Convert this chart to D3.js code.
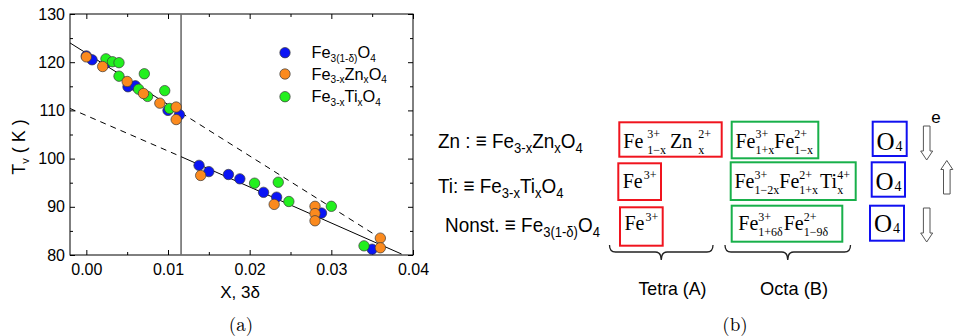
<!DOCTYPE html>
<html>
<head>
<meta charset="utf-8">
<script src="https://cdn.jsdelivr.net/npm/d3@7"></script>
<style>
  body { margin: 0; background: #fff; }
  svg { display: block; }
  .axis text { font-family: "Liberation Sans", Arial, sans-serif; font-size: 16px; fill: #000; }
  .axis line { stroke: #000; }
  .axis path { display: none; }
</style>
</head>
<body>
<div id="graphic"></div>
<script>
// panel (a) data
const nonstX = [0.0000, 0.0007, 0.0024, 0.0051, 0.0060, 0.0100, 0.0114, 0.0138, 0.0150, 0.0174, 0.0188, 0.0217, 0.0233, 0.0288, 0.0350];
const nonstT = [121.3, 120.5, 119.8, 114.9, 115.1, 110.0, 109.1, 98.6, 97.3, 96.7, 95.8, 93.0, 92.0, 88.7, 81.2];
const tiX = [0.0024, 0.0032, 0.0040, 0.0040, 0.0071, 0.0064, 0.0075, 0.0096, 0.0102, 0.0206, 0.0235, 0.0248, 0.0300, 0.0340];
const tiT = [120.7, 120.1, 119.9, 117.1, 117.6, 114.4, 112.9, 114.1, 110.4, 94.9, 95.1, 91.1, 90.1, 81.9];
const znX = [0.0000, 0.0020, 0.0050, 0.0070, 0.0090, 0.0110, 0.0110, 0.0140, 0.0230, 0.0280, 0.0280, 0.0280, 0.0360, 0.0360];
const znT = [121.1, 119.1, 116.0, 113.5, 111.5, 110.7, 108.1, 96.5, 90.5, 90.1, 88.6, 87.1, 83.5, 81.5];

// guide lines (x, T): first part / second part
const upperFit = [[-0.002, 124.0], [0.0116, 109.5], [0.0360, 83.5]];
const lowerFit = [[-0.002, 110.4], [0.0116, 100.4], [0.0386, 80.2]];
const boundaryX = 0.0116;

const xTicks = [0, 0.01, 0.02, 0.03, 0.04];
const xMinor = [0.005, 0.015, 0.025, 0.035];
const yTicks = [80, 90, 100, 110, 120, 130];
const yMinor = [85, 95, 105, 115, 125];

const seriesNames = [
  [{t: "Fe"}, {sub: "3(1-δ)"}, {t: "O"}, {sub: "4"}],
  [{t: "Fe"}, {sub: "3-x"}, {t: "Zn"}, {sub: "x"}, {t: "O"}, {sub: "4"}],
  [{t: "Fe"}, {sub: "3-x"}, {t: "Ti"}, {sub: "x"}, {t: "O"}, {sub: "4"}]
];
const seriesColors = ["#0a14f5", "#fb8a1e", "#22f01e"];

const W = 954, H = 336;
const svg = d3.select("#graphic").append("svg")
  .attr("width", W)
  .attr("height", H);

// lays out base text and stacked scripts left to right
function formula(g, parts, o) {
  let cx = 0;
  parts.forEach(p => {
    if (p.t !== undefined) {
      const t = g.append("text").attr("x", cx).attr("y", 0)
        .style("font-size", o.size + "px").text(p.t);
      cx += t.node().getComputedTextLength() + (p.gap || 0);
    } else {
      let w = 0;
      if (p.sup) {
        const s = g.append("text").attr("x", cx).attr("y", o.supDy)
          .style("font-size", o.ssize + "px").text(p.sup);
        w = Math.max(w, s.node().getComputedTextLength());
      }
      if (p.sub) {
        const s = g.append("text").attr("x", cx).attr("y", o.subDy)
          .style("font-size", o.ssize + "px").text(p.sub);
        w = Math.max(w, s.node().getComputedTextLength());
      }
      cx += w + (p.gap || 0);
    }
  });
  return cx;
}

/* ---------- panel (a) ---------- */
const x = d3.scaleLinear().domain([-0.002, 0.04]).range([70, 413]);
const y = d3.scaleLinear().domain([80, 130]).range([255, 14]);

const plot = svg.append("g");

// axes with inward ticks, mirrored on top/right
plot.append("g").attr("class", "axis").attr("transform", `translate(0,${y(80)})`)
  .call(d3.axisBottom(x).tickValues(xTicks).tickSize(-5).tickPadding(9).tickFormat(d3.format(".2f")));
plot.append("g").attr("class", "axis").attr("transform", `translate(0,${y(80)})`)
  .call(d3.axisBottom(x).tickValues(xMinor).tickSize(-3).tickFormat(""));
plot.append("g").attr("class", "axis").attr("transform", `translate(0,${y(130)})`)
  .call(d3.axisTop(x).tickValues(xTicks).tickSize(-5).tickFormat(""));
plot.append("g").attr("class", "axis").attr("transform", `translate(0,${y(130)})`)
  .call(d3.axisTop(x).tickValues(xMinor).tickSize(-3).tickFormat(""));
plot.append("g").attr("class", "axis").attr("transform", `translate(${x.range()[0]},0)`)
  .call(d3.axisLeft(y).tickValues(yTicks).tickSize(-5).tickPadding(5));
plot.append("g").attr("class", "axis").attr("transform", `translate(${x.range()[0]},0)`)
  .call(d3.axisLeft(y).tickValues(yMinor).tickSize(-3).tickFormat(""));
plot.append("g").attr("class", "axis").attr("transform", `translate(${x.range()[1]},0)`)
  .call(d3.axisRight(y).tickValues(yTicks).tickSize(-5).tickFormat(""));
plot.append("g").attr("class", "axis").attr("transform", `translate(${x.range()[1]},0)`)
  .call(d3.axisRight(y).tickValues(yMinor).tickSize(-3).tickFormat(""));

// frame
plot.append("rect")
  .attr("x", x.range()[0]).attr("y", y(130))
  .attr("width", x.range()[1] - x.range()[0]).attr("height", y(80) - y(130))
  .attr("fill", "none").attr("stroke", "#000").attr("stroke-width", 1);

// vertical boundary
plot.append("line")
  .attr("x1", x(boundaryX)).attr("x2", x(boundaryX))
  .attr("y1", y(130)).attr("y2", y(80))
  .attr("stroke", "#6e6e6e").attr("stroke-width", 1.6);

const seg = (a, b, dashed) => plot.append("line")
  .attr("x1", x(a[0])).attr("y1", y(a[1]))
  .attr("x2", x(b[0])).attr("y2", y(b[1]))
  .attr("stroke", "#000").attr("stroke-width", 1)
  .attr("stroke-dasharray", dashed ? "6,5" : null);
seg(upperFit[0], upperFit[1], false);
seg(upperFit[1], upperFit[2], true);
seg(lowerFit[0], lowerFit[1], true);
seg(lowerFit[1], lowerFit[2], false);

// points
const series = [
  {xs: nonstX, ts: nonstT, c: seriesColors[0]},
  {xs: tiX, ts: tiT, c: seriesColors[2]},
  {xs: znX, ts: znT, c: seriesColors[1]}
];
series.forEach(s => {
  plot.append("g").selectAll("circle")
    .data(s.xs.map((v, i) => [v, s.ts[i]]))
    .enter().append("circle")
    .attr("cx", d => x(d[0]))
    .attr("cy", d => y(d[1]))
    .attr("r", 5.2)
    .attr("fill", s.c)
    .attr("stroke", "#3a3a3a")
    .attr("stroke-width", 0.7);
});

// legend
const legY = [52.7, 74, 96.7];
seriesNames.forEach((parts, i) => {
  plot.append("circle").attr("cx", 285).attr("cy", legY[i]).attr("r", 5.2)
    .attr("fill", seriesColors[i]).attr("stroke", "#3a3a3a").attr("stroke-width", 0.7);
  const g = plot.append("g")
    .attr("transform", `translate(311.5,${legY[i] + 5.5}) scale(0.96,1)`)
    .style("font-family", "'Liberation Sans', Arial, sans-serif");
  formula(g, parts, {size: 17, ssize: 10.5, subDy: 3.5, supDy: -7});
});

// axis titles
plot.append("text")
  .attr("x", 240).attr("y", 298)
  .attr("text-anchor", "middle")
  .style("font-family", "'Liberation Sans', Arial, sans-serif")
  .style("font-size", "17px")
  .text("X, 3δ");

const yl = plot.append("text")
  .attr("transform", "translate(25,147) rotate(-90)")
  .attr("text-anchor", "middle")
  .style("font-family", "'Liberation Sans', Arial, sans-serif")
  .style("font-size", "18px");
yl.append("tspan").text("T");
yl.append("tspan").attr("dy", 4).style("font-size", "11px").text("v");
yl.append("tspan").attr("dy", -4).text(" ( K )");

svg.append("text")
  .attr("x", 241).attr("y", 331)
  .attr("text-anchor", "middle")
  .style("font-family", "'Latin Modern Roman', 'Liberation Serif', serif")
  .style("font-size", "19px")
  .text("(a)");

/* ---------- panel (b) ---------- */
const rowLabels = [
  [{t: "Zn :  ≡ Fe"}, {sub: "3-x"}, {t: "Zn"}, {sub: "x"}, {t: "O"}, {sub: "4"}],
  [{t: "Ti:  ≡  Fe"}, {sub: "3-x"}, {t: "Ti"}, {sub: "x"}, {t: "O"}, {sub: "4"}],
  [{t: "Nonst. ≡ Fe"}, {sub: "3(1-δ)"}, {t: " O"}, {sub: "4"}]
];
const rowLabelX = [438, 438, 445];
const rowBase = [148, 193, 232];

const tetra = [
  [{t: "Fe", gap: 4}, {sup: "3+", sub: "1−x", gap: 4}, {t: "Zn", gap: 6}, {sup: "2+", sub: "x"}],
  [{t: "Fe", gap: 1}, {sup: "3+"}],
  [{t: "Fe", gap: 1}, {sup: "3+"}]
];
const octa = [
  [{t: "Fe"}, {sup: "3+", sub: "1+x"}, {t: "Fe"}, {sup: "2+", sub: "1−x"}],
  [{t: "Fe"}, {sup: "3+", sub: "1−2x"}, {t: "Fe"}, {sup: "2+", sub: "1+x", gap: 2}, {t: "Ti"}, {sup: "4+", sub: "x"}],
  [{t: "Fe"}, {sup: "3+", sub: "1+6δ", gap: 1}, {t: "Fe"}, {sup: "2+", sub: "1−9δ"}]
];

const redBoxes = [[619.3, 122.3, 721.7, 156.7], [618.3, 163.3, 661, 200], [620, 207.3, 662.7, 245.7]];
const greenBoxes = [[731.7, 121.7, 818.3, 158.3], [730.7, 162.3, 855.7, 200], [731.7, 205.7, 842.3, 241.7]];
const blueBoxes = [[872.7, 121.7, 906.7, 156], [871.7, 162.3, 905, 196.7], [870, 205.7, 904, 240.7]];
const tetraX = [623.3, 622.7, 624.5];
const octaX = [735.5, 734.5, 738.3];
const oX = [876.5, 875.5, 874];
const boxBase = [147.5, 188, 230];
const oBase = [150, 190, 232];

const pb = svg.append("g");

rowLabels.forEach((parts, i) => {
  const g = pb.append("g")
    .attr("transform", `translate(${rowLabelX[i]},${rowBase[i]}) scale(0.9,1)`)
    .style("font-family", "'Liberation Sans', Arial, sans-serif");
  formula(g, parts, {size: 21, ssize: 14.5, subDy: 5, supDy: -8});
});

const box = (b, col) => pb.append("rect")
  .attr("x", b[0]).attr("y", b[1])
  .attr("width", b[2] - b[0]).attr("height", b[3] - b[1])
  .attr("fill", "none").attr("stroke", col).attr("stroke-width", 2);

redBoxes.forEach(b => box(b, "#f0141e"));
greenBoxes.forEach(b => box(b, "#18b04a"));
blueBoxes.forEach(b => box(b, "#1010f0"));

const serif = "'Liberation Serif', 'Times New Roman', serif";
tetra.forEach((parts, i) => {
  const g = pb.append("g").attr("transform", `translate(${tetraX[i]},${boxBase[i]})`).style("font-family", serif);
  formula(g, parts, {size: 20, ssize: 12, supDy: -9.5, subDy: 6});
});
octa.forEach((parts, i) => {
  const g = pb.append("g").attr("transform", `translate(${octaX[i]},${boxBase[i]})`).style("font-family", serif);
  formula(g, parts, {size: 20, ssize: 12, supDy: -9.5, subDy: 6});
});
oX.forEach((v, i) => {
  const g = pb.append("g").attr("transform", `translate(${v},${oBase[i]})`).style("font-family", serif);
  formula(g, [{t: "O", gap: 1}, {sub: "4"}], {size: 25, ssize: 14, supDy: -9, subDy: 1});
});

// hollow arrows
function arrow(cx, yTop, yBot, down) {
  const sw = 3.3, hw = 6, hl = 9;
  let p;
  if (down) {
    const yb = yBot - hl;
    p = `M${cx - sw},${yTop} L${cx + sw},${yTop} L${cx + sw},${yb} L${cx + hw},${yb} L${cx},${yBot} L${cx - hw},${yb} L${cx - sw},${yb} Z`;
  } else {
    const yb = yTop + hl;
    p = `M${cx - sw},${yBot} L${cx + sw},${yBot} L${cx + sw},${yb} L${cx + hw},${yb} L${cx},${yTop} L${cx - hw},${yb} L${cx - sw},${yb} Z`;
  }
  pb.append("path").attr("d", p).attr("fill", "#fff").attr("stroke", "#555").attr("stroke-width", 1);
}
arrow(926.7, 126, 160, true);
arrow(946.8, 160.5, 194, false);
arrow(926.7, 208, 242, true);

pb.append("text")
  .attr("x", 936).attr("y", 123)
  .attr("text-anchor", "middle")
  .style("font-family", "'Liberation Sans', Arial, sans-serif")
  .style("font-size", "17px")
  .text("e");

// braces under the site groups
function brace(x1, x2, y0) {
  const ym = y0 + 7, yt = y0 + 15, mid = (x1 + x2) / 2, r = 6;
  const d = `M${x1},${y0} Q${x1},${ym} ${x1 + r},${ym} L${mid - r},${ym} Q${mid},${ym} ${mid},${yt} ` +
            `Q${mid},${ym} ${mid + r},${ym} L${x2 - r},${ym} Q${x2},${ym} ${x2},${y0}`;
  pb.append("path").attr("d", d).attr("fill", "none").attr("stroke", "#222").attr("stroke-width", 1.3);
}
brace(609.5, 713, 245);
brace(725, 850.5, 245);

pb.append("text")
  .attr("x", 672.5).attr("y", 295)
  .attr("text-anchor", "middle")
  .attr("textLength", 68).attr("lengthAdjust", "spacingAndGlyphs")
  .style("font-family", "'Liberation Sans', Arial, sans-serif")
  .style("font-size", "19px")
  .text("Tetra (A)");
pb.append("text")
  .attr("x", 794).attr("y", 295)
  .attr("text-anchor", "middle")
  .attr("textLength", 68).attr("lengthAdjust", "spacingAndGlyphs")
  .style("font-family", "'Liberation Sans', Arial, sans-serif")
  .style("font-size", "19px")
  .text("Octa (B)");

svg.append("text")
  .attr("x", 735).attr("y", 331)
  .attr("text-anchor", "middle")
  .style("font-family", "'Latin Modern Roman', 'Liberation Serif', serif")
  .style("font-size", "19px")
  .text("(b)");
</script>
</body>
</html>
